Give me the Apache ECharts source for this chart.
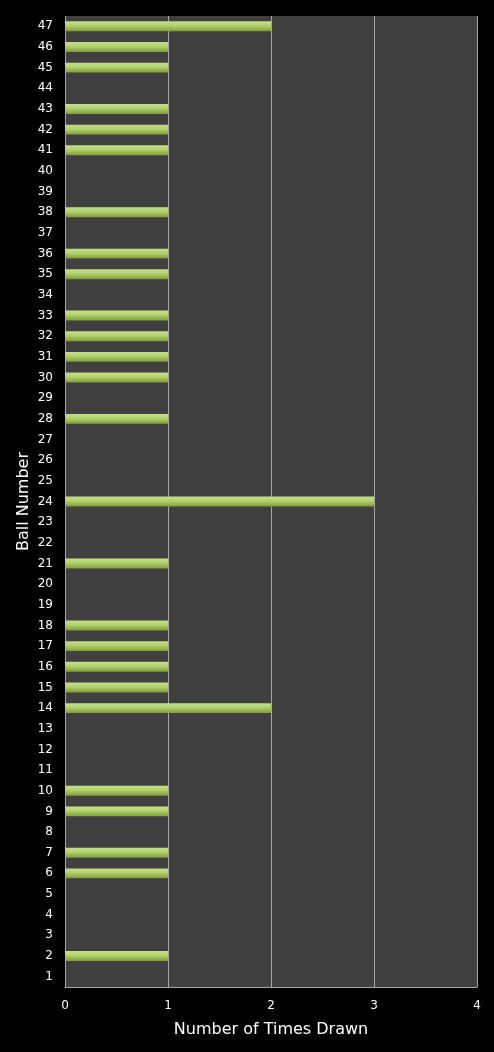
<!DOCTYPE html>
<html><head><meta charset="utf-8">
<style>html,body{margin:0;padding:0;background:#000;}#c{width:494px;height:1052px;}</style>
<script src="https://cdn.jsdelivr.net/npm/echarts@6/dist/echarts.min.js"></script>
</head><body><div id="c"></div>
<script>
const ballNumbers = Array.from({length:47},(_,i)=>String(i+1));
const timesDrawn = [0,1,0,0,0,1,1,0,1,1,0,0,0,2,1,1,1,1,0,0,1,0,0,3,0,0,0,1,0,1,1,1,1,0,1,1,0,1,0,0,1,1,1,0,1,1,2];
const xTicks = [0,1,2,3,4];
const chart = echarts.init(document.getElementById('c'));
chart.setOption({
  backgroundColor:'#000',
  animation:false,
  grid:{left:65,right:17,top:16,bottom:65,show:true,backgroundColor:'#404040',borderWidth:0},
  xAxis:{type:'value',min:xTicks[0],max:xTicks[xTicks.length-1],interval:1,
    name:'Number of Times Drawn',nameLocation:'middle',nameGap:35,
    nameTextStyle:{color:'#fff',fontSize:16,fontFamily:'DejaVu Sans'},
    axisLine:{show:true,lineStyle:{color:'#a6a6a6',width:1}},axisTick:{show:false},
    axisLabel:{color:'#fff',fontSize:12,fontFamily:'DejaVu Sans',margin:13},
    splitLine:{show:true,lineStyle:{color:'#a6a6a6',width:1}}},
  yAxis:{type:'category',data:ballNumbers,
    name:'Ball Number',nameLocation:'middle',nameGap:33,nameRotate:90,nameMoveOverlap:false,
    nameTextStyle:{color:'#fff',fontSize:16,fontFamily:'DejaVu Sans'},
    axisLine:{show:false},axisTick:{show:false},
    axisLabel:{color:'#fff',fontSize:12,fontFamily:'DejaVu Sans',margin:12,interval:0}},
  series:[{type:'bar',data:timesDrawn,barWidth:'48%',
    itemStyle:{borderWidth:0,
      color:new echarts.graphic.LinearGradient(0,0,0,1,[
        {offset:0,color:'#c6df8c'},{offset:0.45,color:'#b2d06c'},{offset:1,color:'#7f9d38'}])}}]
});
</script></body></html>
